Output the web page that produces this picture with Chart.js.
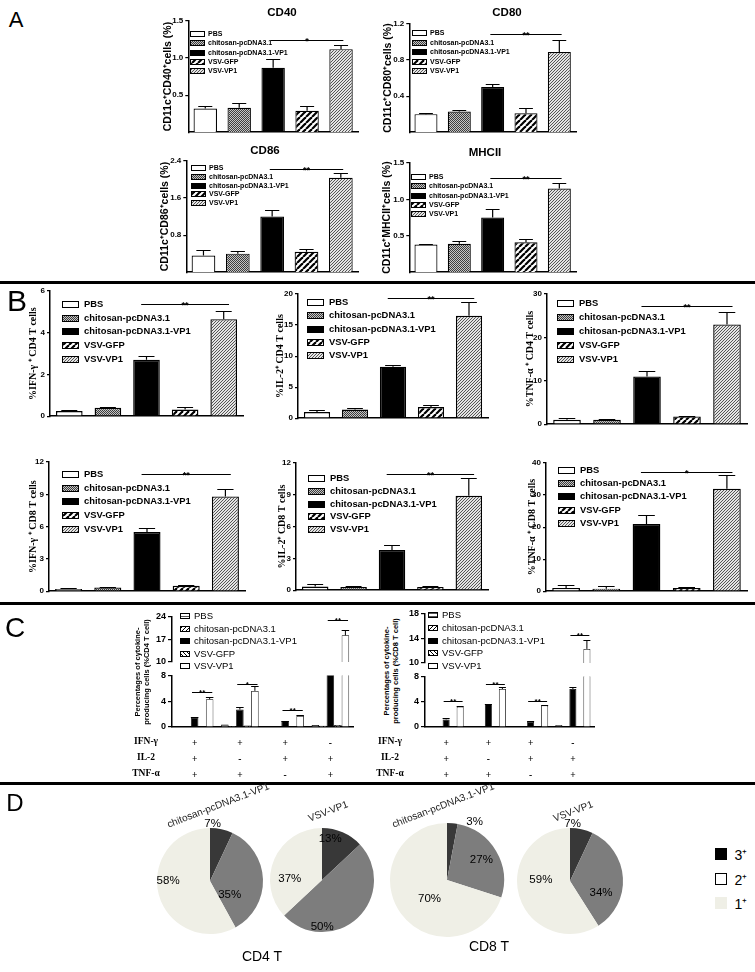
<!DOCTYPE html>
<html>
<head>
<meta charset="utf-8">
<title>Figure</title>
<script src="https://cdn.jsdelivr.net/npm/chart.js@4.4.1/dist/chart.umd.min.js"></script>
<style>
  body { margin: 0; background: #fff; }
  #fig { position: relative; width: 755px; height: 972px; overflow: hidden; background: #fff;
         font-family: "Liberation Sans", Arial, sans-serif; color: #000; }
  #fig canvas { position: absolute; }
  .txt { position: absolute; white-space: nowrap; line-height: 1; }
  .rule { position: absolute; left: 0; width: 755px; height: 3px; background: #000; }
</style>
</head>
<body>
<div id="fig"></div>
<script>
// ---------- data ----------
const groups = ['PBS', 'chitosan-pcDNA3.1', 'chitosan-pcDNA3.1-VP1', 'VSV-GFP', 'VSV-VP1'];

// A: CD11c+ DC activation markers (%)
const cd40 = [0.32, 0.33, 0.87, 0.29, 1.12];
const cd40Err = [0.04, 0.06, 0.12, 0.06, 0.06];
const cd80 = [0.20, 0.23, 0.50, 0.21, 0.89];
const cd80Err = [0.01, 0.02, 0.03, 0.06, 0.13];
const cd86 = [0.36, 0.40, 1.20, 0.44, 2.04];
const cd86Err = [0.12, 0.05, 0.14, 0.06, 0.10];
const mhc2 = [0.38, 0.39, 0.75, 0.41, 1.15];
const mhc2Err = [0.01, 0.04, 0.12, 0.04, 0.07];
const cd40Ticks = [0.5, 1.0, 1.5];
const cd80Ticks = [0.4, 0.8, 1.2];
const cd86Ticks = [0.8, 1.6, 2.4];
const mhc2Ticks = [0.5, 1.0, 1.5];

// B: cytokine+ T cells (%)
const ifnCD4 = [0.25, 0.40, 2.70, 0.32, 4.65];
const ifnCD4Err = [0.05, 0.03, 0.20, 0.10, 0.40];
const il2CD4 = [1.0, 1.4, 8.3, 1.8, 16.5];
const il2CD4Err = [0.4, 0.3, 0.3, 0.4, 2.2];
const tnfCD4 = [1.0, 1.0, 11.0, 1.8, 23.0];
const tnfCD4Err = [0.5, 0.2, 1.3, 0.2, 2.8];
const ifnCD8 = [0.20, 0.35, 5.5, 0.50, 8.8];
const ifnCD8Err = [0.08, 0.03, 0.4, 0.05, 0.7];
const il2CD8 = [0.35, 0.30, 3.8, 0.30, 8.9];
const il2CD8Err = [0.25, 0.05, 0.45, 0.10, 1.7];
const tnfCD8 = [1.0, 0.8, 21.0, 1.0, 32.0];
const tnfCD8Err = [0.8, 0.7, 2.8, 0.4, 4.2];

// C: cytokine combinations
const cytokines = ['IFN-γ', 'IL-2', 'TNF-α'];
const combos = [['+', '+', '+'], ['+', '-', '+'], ['+', '+', '-'], ['-', '+', '+']];
const c4PBS = [0.05, 0.4, 0.05, 0.3];
const c4Chit = [0.05, 0.15, 0.05, 0.2];
const c4ChitVP1 = [1.5, 2.7, 0.9, 8.5];
const c4GFP = [0.05, 0.25, 0.05, 0.3];
const c4VP1 = [4.3, 5.6, 1.7, 18.3];
const c4ChitVP1Err = [0.1, 0.4, 0.05, 0];
const c4VP1Err = [0.3, 0.7, 0.15, 1.7];
const c8PBS = [0.05, 0.1, 0.05, 0.3];
const c8Chit = [0.05, 0.1, 0.05, 0.1];
const c8ChitVP1 = [1.2, 3.6, 0.85, 6.0];
const c8GFP = [0.05, 0.1, 0.05, 0.1];
const c8VP1 = [3.2, 6.0, 3.4, 12.3];
const c8ChitVP1Err = [0.15, 0.1, 0.05, 0.4];
const c8VP1Err = [0.1, 0.3, 0.1, 1.4];
const c4UpTicks = [10, 17, 24];
const c8UpTicks = [10, 14, 18];
const cLoTicks = [0, 4, 8];
const c4Sig = [{ g: 0, at: 5.4, mark: '**' }, { g: 1, at: 6.7, mark: '*' }, { g: 2, at: 2.6, mark: '**' }, { g: 3, at: 23.1, mark: '**' }];
const c8Sig = [{ g: 0, at: 4.1, mark: '**' }, { g: 1, at: 6.8, mark: '**' }, { g: 2, at: 4.1, mark: '**' }, { g: 3, at: 14.6, mark: '**' }];

// D: polyfunctional fractions (%)
const pieLevels = ['3⁺', '2⁺', '1⁺'];
const cd4ChitPie = [7, 35, 58];
const cd4VsvPie = [13, 50, 37];
const cd8ChitPie = [3, 27, 70];
const cd8VsvPie = [7, 34, 59];

// ---------- setup ----------
const fig = document.getElementById('fig');
const SANS = '"Liberation Sans", Arial, sans-serif';
const SERIF = '"Liberation Serif", "Times New Roman", serif';
Chart.defaults.font.family = SANS;
Chart.defaults.color = '#000';

function canvasAt(l, t, w, h) {
  const c = document.createElement('canvas');
  c.width = Math.round(w); c.height = Math.round(h);
  c.style.left = Math.round(l) + 'px'; c.style.top = Math.round(t) + 'px';
  c.style.width = Math.round(w) + 'px'; c.style.height = Math.round(h) + 'px';
  fig.appendChild(c);
  return c;
}

function text(str, x, y, css, tf) {
  const d = document.createElement('div');
  d.className = 'txt';
  d.innerHTML = str;
  d.style.left = x + 'px';
  d.style.top = y + 'px';
  d.style.cssText += css || '';
  d.style.transform = 'translate(-50%,-50%)' + (tf || '');
  fig.appendChild(d);
}

function hatch(size, lw, dir, bg, fg) {
  const c = document.createElement('canvas');
  c.width = c.height = size;
  const g = c.getContext('2d');
  g.fillStyle = bg; g.fillRect(0, 0, size, size);
  g.strokeStyle = fg; g.lineWidth = lw;
  for (let k = -1; k <= 1; k++) {
    g.beginPath();
    if (dir > 0) { g.moveTo(k * size, size); g.lineTo(k * size + size, 0); }
    else { g.moveTo(k * size, 0); g.lineTo(k * size + size, size); }
    g.stroke();
  }
  return g.createPattern(c, 'repeat');
}

function hlines(size, bg, fg) {
  const c = document.createElement('canvas');
  c.width = c.height = size;
  const g = c.getContext('2d');
  g.fillStyle = bg; g.fillRect(0, 0, size, size);
  g.fillStyle = fg; g.fillRect(0, 0, size, 1);
  return g.createPattern(c, 'repeat');
}

function checker(a, b) {
  const c = document.createElement('canvas');
  c.width = c.height = 2;
  const g = c.getContext('2d');
  g.fillStyle = b; g.fillRect(0, 0, 2, 2);
  g.fillStyle = a; g.fillRect(0, 0, 1, 1); g.fillRect(1, 1, 1, 1);
  return g.createPattern(c, 'repeat');
}

const fillsAB = ['#ffffff', checker('#3c3c3c', '#c4c4c4'), '#000000',
  hatch(6, 2.2, 1, '#ffffff', '#000000'), hatch(3, 1, 1, '#e4e4e4', '#555555')];
const fillsC = [hlines(3, '#ffffff', '#555555'), hatch(4, 1, 1, '#ffffff', '#000000'), '#000000',
  hatch(4, 1, -1, '#ffffff', '#000000'), '#ffffff'];

// ---------- plugins ----------
const errorBars = {
  id: 'errorBars',
  afterDatasetsDraw(chart, args, o) {
    if (!o.errs) return;
    const { ctx, chartArea: a } = chart;
    const y = chart.scales.y;
    ctx.save();
    ctx.beginPath(); ctx.rect(a.left, a.top - 1, a.right - a.left, a.bottom - a.top + 1); ctx.clip();
    ctx.strokeStyle = '#000'; ctx.lineWidth = o.lw || 1.2;
    chart.data.datasets.forEach((ds, i) => {
      chart.getDatasetMeta(i).data.forEach((bar, j) => {
        const v = ds.data[j];
        const e = o.errs[i] ? o.errs[i][j] : 0;
        if (v == null || !e) return;
        const yt = Math.round(y.getPixelForValue(v + e)) + 0.5;
        const half = bar.width * (o.cap || 0.3);
        ctx.beginPath();
        ctx.moveTo(bar.x, y.getPixelForValue(v)); ctx.lineTo(bar.x, yt);
        ctx.moveTo(bar.x - half, yt); ctx.lineTo(bar.x + half, yt);
        ctx.stroke();
      });
    });
    ctx.restore();
  }
};

const sigBars = {
  id: 'sigBars',
  afterDatasetsDraw(chart, args, o) {
    if (!o.items) return;
    const ctx = chart.ctx, y = chart.scales.y;
    ctx.save();
    ctx.strokeStyle = '#000'; ctx.fillStyle = '#000'; ctx.lineWidth = o.lw || 1;
    ctx.font = o.font; ctx.textAlign = 'center'; ctx.textBaseline = 'alphabetic';
    o.items.forEach(s => {
      const a = chart.getDatasetMeta(s.from[0]).data[s.from[1]];
      const b = chart.getDatasetMeta(s.to[0]).data[s.to[1]];
      const x1 = a.x - a.width * o.ext, x2 = b.x + b.width * o.ext;
      const py = Math.round(y.getPixelForValue(s.at)) + 0.5;
      ctx.beginPath(); ctx.moveTo(x1, py); ctx.lineTo(x2, py); ctx.stroke();
      ctx.fillText(s.mark, (x1 + x2) / 2, py + o.raise);
    });
    ctx.restore();
  }
};

const boxLegend = {
  id: 'boxLegend',
  afterDraw(chart, args, o) {
    if (o.x == null) return;
    const { ctx, chartArea: a } = chart;
    ctx.save();
    ctx.font = o.font; ctx.textBaseline = 'middle'; ctx.textAlign = 'left';
    chart.data.datasets.forEach((ds, i) => {
      const y = Math.round(a.top + o.y + i * o.dy);
      const x = Math.round(a.left + o.x);
      const top = Math.round(y - o.bh / 2);
      ctx.fillStyle = ds.backgroundColor;
      ctx.fillRect(x, top, o.bw, o.bh);
      ctx.strokeStyle = '#000'; ctx.lineWidth = 1;
      ctx.strokeRect(x + 0.5, top + 0.5, o.bw - 1, o.bh - 1);
      ctx.fillStyle = '#000';
      ctx.fillText(ds.label, x + o.bw + o.gap, y + 0.5);
    });
    ctx.restore();
  }
};

// percentage labels: placed from each arc's mid angle, nudged by a per-slice angle and radius factor
const pieLabels = {
  id: 'pieLabels',
  afterDatasetsDraw(chart, args, o) {
    if (!o.rf) return;
    const ctx = chart.ctx, ds = chart.data.datasets[0];
    ctx.save();
    ctx.font = o.font; ctx.fillStyle = '#000'; ctx.textAlign = 'center'; ctx.textBaseline = 'middle';
    chart.getDatasetMeta(0).data.forEach((arc, i) => {
      const mid = (arc.startAngle + arc.endAngle) / 2 + (o.shift[i] || 0) * Math.PI / 180;
      const r = arc.outerRadius * o.rf[i];
      ctx.fillText(ds.data[i] + '%', arc.x + Math.cos(mid) * r, arc.y + Math.sin(mid) * r);
    });
    ctx.restore();
  }
};

Chart.register(errorBars, sigBars, boxLegend, pieLabels);

// ---------- single-group bar panels (A, B) ----------
function barPanel(p, st) {
  const padT = 12, padR = 4, padB = 4;
  const yW = p.x0 - p.titleX + st.titleSize * 0.6;
  const cv = canvasAt(p.x0 - yW, p.yTop - padT, p.x1 - p.x0 + yW + padR, p.yBot - p.yTop + padT + padB);
  return new Chart(cv, {
    type: 'bar',
    data: {
      labels: [''],
      datasets: groups.map((g, i) => ({
        label: g, data: [p.vals[i]], backgroundColor: fillsAB[i],
        borderColor: '#000', borderWidth: st.bw, categoryPercentage: 1, barPercentage: 0.69, clip: 0
      }))
    },
    options: {
      responsive: false, animation: false,
      layout: { padding: { top: padT, right: padR, left: 0, bottom: 0 } },
      scales: {
        x: {
          grid: { display: false }, ticks: { display: false },
          border: { color: '#000', width: 1.5 },
          afterFit: s => { s.height = padB; }
        },
        y: {
          min: 0, max: p.max,
          afterBuildTicks: s => { s.ticks = p.ticks.map(v => ({ value: v })); },
          afterFit: s => { s.width = yW; },
          grid: { display: true, drawOnChartArea: false, color: '#000', tickLength: 3, lineWidth: 1.2 },
          border: { color: '#000', width: 1.5 },
          ticks: { padding: 2, font: { size: st.tickSize, weight: 'bold' },
                   callback: v => v.toFixed(st.dec) },
          title: { display: true, text: p.yTitle, padding: 0,
                   font: { size: st.titleSize, weight: 'bold', family: st.titleFamily } }
        }
      },
      plugins: {
        legend: { display: false }, tooltip: { enabled: false },
        errorBars: { errs: p.errs.map(e => [e]), cap: 0.3, lw: 1.2 },
        sigBars: { items: [{ from: [2, 0], to: [4, 0], at: p.sig.at, mark: p.sig.mark }],
                   ext: st.ext, font: 'bold 9px ' + SANS, raise: 3, lw: 1 },
        boxLegend: { x: p.leg.x, y: p.leg.y, dy: p.leg.dy, bw: st.legBox[0], bh: st.legBox[1],
                     gap: st.legGap, font: st.legFont }
      }
    }
  });
}

const styleA = { bw: 1.2, tickSize: 8, dec: 1, titleSize: 10.5, titleFamily: SANS, ext: 0.1,
                 legBox: [15, 6], legGap: 3, legFont: 'bold 7px ' + SANS };
const styleB = { bw: 1.4, tickSize: 8, dec: 0, titleSize: 10, titleFamily: SERIF, ext: 0.2,
                 legBox: [17, 7], legGap: 5, legFont: 'bold 9.4px ' + SANS };

[
  { vals: cd40, errs: cd40Err, ticks: cd40Ticks, max: 1.5, x0: 188, x1: 358, yTop: 21, yBot: 135, titleX: 168,
    yTitle: 'CD11c⁺CD40⁺cells (%)', sig: { at: 1.25, mark: '*' }, leg: { x: 2, y: 13, dy: 9.3 } },
  { vals: cd80, errs: cd80Err, ticks: cd80Ticks, max: 1.2, x0: 409, x1: 576, yTop: 24, yBot: 135, titleX: 388,
    yTitle: 'CD11c⁺CD80⁺cells (%)', sig: { at: 1.09, mark: '**' }, leg: { x: 3, y: 9, dy: 9.5 } },
  { vals: cd86, errs: cd86Err, ticks: cd86Ticks, max: 2.4, x0: 186, x1: 358, yTop: 161, yBot: 275, titleX: 165,
    yTitle: 'CD11c⁺CD86⁺cells (%)', sig: { at: 2.23, mark: '**' }, leg: { x: 5, y: 7, dy: 8.8 } },
  { vals: mhc2, errs: mhc2Err, ticks: mhc2Ticks, max: 1.5, x0: 409, x1: 576, yTop: 163, yBot: 275, titleX: 387,
    yTitle: 'CD11c⁺MHCII⁺cells (%)', sig: { at: 1.29, mark: '**' }, leg: { x: 2, y: 14, dy: 9.3 } }
].forEach(p => barPanel(p, styleA));

[
  { vals: ifnCD4, errs: ifnCD4Err, ticks: [0, 2, 4, 6], max: 6, x0: 50, x1: 243, yTop: 291, yBot: 419, titleX: 33,
    yTitle: '%IFN-γ ⁺ CD4 T cells', sig: { at: 5.4, mark: '**' }, leg: { x: 12, y: 13, dy: 13.7 } },
  { vals: il2CD4, errs: il2CD4Err, ticks: [0, 5, 10, 15, 20], max: 20, x0: 298, x1: 488, yTop: 294, yBot: 421, titleX: 280,
    yTitle: '%IL-2⁺ CD4 T cells', sig: { at: 19.4, mark: '**' }, leg: { x: 9, y: 8, dy: 13.3 } },
  { vals: tnfCD4, errs: tnfCD4Err, ticks: [0, 10, 20, 30], max: 30, x0: 547, x1: 747, yTop: 294, yBot: 427, titleX: 530,
    yTitle: '%TNF-α ⁺ CD4 T cells', sig: { at: 27.3, mark: '**' }, leg: { x: 10, y: 9, dy: 14 } },
  { vals: ifnCD8, errs: ifnCD8Err, ticks: [0, 3, 6, 9, 12], max: 12, x0: 49, x1: 245, yTop: 462, yBot: 594, titleX: 33,
    yTitle: '%IFN-γ ⁺ CD8 T cells', sig: { at: 10.9, mark: '**' }, leg: { x: 13, y: 12, dy: 13.7 } },
  { vals: il2CD8, errs: il2CD8Err, ticks: [0, 3, 6, 9, 12], max: 12, x0: 296, x1: 488, yTop: 463, yBot: 593, titleX: 282,
    yTitle: '%IL-2⁺ CD8 T cells', sig: { at: 11.0, mark: '**' }, leg: { x: 12, y: 15, dy: 12.8 } },
  { vals: tnfCD8, errs: tnfCD8Err, ticks: [0, 10, 20, 30, 40], max: 40, x0: 546, x1: 747, yTop: 463, yBot: 594, titleX: 532,
    yTitle: '%TNF-α ⁺ CD8 T cells', sig: { at: 37.3, mark: '*' }, leg: { x: 12, y: 7, dy: 13.2 } }
].forEach(p => barPanel(p, styleB));

// ---------- broken-axis grouped panels (C) ----------
function comboPanel(p) {
  const yW = 22, padR = 4;
  const width = p.x1 - p.x0 + yW + padR;
  const makeSets = keep => p.series.map((vals, i) => ({
    label: groups[i], data: vals.map(keep), backgroundColor: fillsC[i], borderColor: '#000',
    borderWidth: 0.8, categoryPercentage: 0.83, barPercentage: 1, clip: 0
  }));
  const yAxis = (min, max, ticks) => ({
    min, max,
    afterBuildTicks: s => { s.ticks = ticks.map(v => ({ value: v })); },
    afterFit: s => { s.width = yW; },
    grid: { display: true, drawOnChartArea: false, color: '#000', tickLength: 4, lineWidth: 1.2 },
    border: { color: '#000', width: 1.5 },
    ticks: { padding: 2, font: { size: 9, weight: 'bold' } }
  });
  const sigItems = list => list.map(s => ({ from: [2, s.g], to: [4, s.g], at: s.at, mark: s.mark }));
  const sigOpts = list => ({ items: sigItems(list), ext: 0.35, font: 'bold 8px ' + SANS, raise: 2.5, lw: 1 });

  // upper segment
  const upPadT = 10, upPadB = 12;
  const cvU = canvasAt(p.x0 - yW, p.up.top - upPadT, width, p.up.bot - p.up.top + upPadT + upPadB);
  new Chart(cvU, {
    type: 'bar',
    data: { labels: combos, datasets: makeSets(v => (v > p.up.min ? v : null)) },
    options: {
      responsive: false, animation: false,
      layout: { padding: { top: upPadT, right: padR, left: 0, bottom: upPadB } },
      scales: { x: { display: false }, y: yAxis(p.up.min, p.up.max, p.up.ticks) },
      plugins: {
        legend: { display: false }, tooltip: { enabled: false },
        errorBars: { errs: p.errs, cap: 0.5, lw: 1 },
        sigBars: sigOpts(p.sig.filter(s => s.at > p.up.min)),
        boxLegend: { x: p.leg.x, y: p.leg.y, dy: p.leg.dy, bw: 10, bh: 6, gap: 4, font: '9.5px ' + SANS }
      }
    }
  });

  // lower segment
  const loPadT = 4, loPadB = 56;
  const cvL = canvasAt(p.x0 - yW, p.lo.top - loPadT, width, p.lo.bot - p.lo.top + loPadT + loPadB);
  new Chart(cvL, {
    type: 'bar',
    data: { labels: combos, datasets: makeSets(v => v) },
    options: {
      responsive: false, animation: false,
      layout: { padding: { top: loPadT, right: padR, left: 0, bottom: 0 } },
      scales: {
        x: {
          grid: { display: false }, border: { color: '#000', width: 1.5 },
          ticks: { padding: 0, font: { size: 9.5, weight: 'bold', family: SERIF, lineHeight: 1.7 } },
          afterFit: s => { s.height = loPadB; }
        },
        y: yAxis(0, p.lo.max, p.lo.ticks)
      },
      plugins: {
        legend: { display: false }, tooltip: { enabled: false },
        errorBars: { errs: p.errs, cap: 0.5, lw: 1 },
        sigBars: sigOpts(p.sig.filter(s => s.at <= p.lo.max))
      }
    }
  });

  text('Percentages of cytokine-<br>producing cells (' + p.cell + ')', p.titleX, (p.up.top + p.lo.bot) / 2,
       'font:bold 7.5px ' + SANS + ';text-align:center;line-height:1.15;', ' rotate(-90deg)');
  cytokines.forEach((c, i) => text(c, p.rowX, 741 + i * 16,
       'font:bold 9.5px ' + SERIF + ';', ''));
}

comboPanel({
  series: [c4PBS, c4Chit, c4ChitVP1, c4GFP, c4VP1],
  errs: [null, null, c4ChitVP1Err, null, c4VP1Err],
  x0: 172, x1: 353, up: { top: 617, bot: 662, min: 10, max: 24, ticks: c4UpTicks },
  lo: { top: 672, bot: 727, max: 8, ticks: cLoTicks }, sig: c4Sig,
  leg: { x: 8, y: -1, dy: 12.5 }, titleX: 143, cell: '%CD4 T cell', rowX: 146
});
comboPanel({
  series: [c8PBS, c8Chit, c8ChitVP1, c8GFP, c8VP1],
  errs: [null, null, c8ChitVP1Err, null, c8VP1Err],
  x0: 425, x1: 594, up: { top: 614, bot: 663, min: 10, max: 18, ticks: c8UpTicks },
  lo: { top: 673, bot: 727, max: 8, ticks: cLoTicks }, sig: c8Sig,
  leg: { x: 3, y: 1, dy: 12.8 }, titleX: 392, cell: '%CD8 T cell', rowX: 390
});

// ---------- pies (D) ----------
const pieColors = ['#383838', '#7d7d7d', '#efefe6'];
function piePanel(cx, cy, r, vals, rf, shift) {
  const m = 18;
  const cv = canvasAt(cx - r - m, cy - r - m, 2 * (r + m), 2 * (r + m));
  new Chart(cv, {
    type: 'pie',
    data: { labels: pieLevels, datasets: [{ data: vals, backgroundColor: pieColors, borderWidth: 0 }] },
    options: {
      responsive: false, animation: false,
      layout: { padding: m },
      plugins: { legend: { display: false }, tooltip: { enabled: false },
                 pieLabels: { rf, shift, font: '11.5px ' + SANS } }
    }
  });
}
piePanel(210, 881, 53, cd4ChitPie, [1.08, 0.45, 0.79], [-10, 36, 15]);
piePanel(322, 880, 52, cd4VsvPie, [0.8, 0.9, 0.62], [-12, 43, -21]);
piePanel(447, 880, 57, cd8ChitPie, [1.13, 0.7, 0.45], [20, 0, -11]);
piePanel(570, 881, 53, cd8VsvPie, [1.08, 0.63, 0.55], [-10, 25, 18]);

// ---------- static text / layout ----------
text('CD40', 282, 12, 'font:bold 11.5px ' + SANS + ';');
text('CD80', 507, 12, 'font:bold 11.5px ' + SANS + ';');
text('CD86', 265, 150, 'font:bold 11.5px ' + SANS + ';');
text('MHCII', 485, 152, 'font:bold 11.5px ' + SANS + ';');

text('A', 16, 20, 'font:22px ' + SANS + ';');
text('B', 17, 301, 'font:30px ' + SANS + ';');
text('C', 15, 628, 'font:28px ' + SANS + ';');
text('D', 15, 803, 'font:24px ' + SANS + ';');

[281, 602, 782].forEach(y => {
  const d = document.createElement('div');
  d.className = 'rule'; d.style.top = y + 'px';
  fig.appendChild(d);
});

const rot = ' rotate(-21deg)';
text('chitosan-pcDNA3.1-VP1', 218, 805, 'font:10px ' + SANS + ';color:#222;', rot);
text('VSV-VP1', 328, 811, 'font:10px ' + SANS + ';color:#222;', rot);
text('chitosan-pcDNA3.1-VP1', 443, 805, 'font:10px ' + SANS + ';color:#222;', rot);
text('VSV-VP1', 573, 811, 'font:10px ' + SANS + ';color:#222;', rot);
text('CD4 T', 262, 956, 'font:14px ' + SANS + ';');
text('CD8 T', 489, 946, 'font:14px ' + SANS + ';');

// D legend
const legSwatch = ['background:#000;', 'background:#fff;border:1.5px solid #000;box-sizing:border-box;', 'background:#efefe6;'];
pieLevels.forEach((lv, i) => {
  const y = 854 + i * 24.5;
  const s = document.createElement('div');
  s.style.cssText = 'position:absolute;left:715px;top:' + (y - 6) + 'px;width:12px;height:12px;' + legSwatch[i];
  fig.appendChild(s);
  text(lv, 741, y, 'font:14px ' + SANS + ';');
});
</script>
</body>
</html>
